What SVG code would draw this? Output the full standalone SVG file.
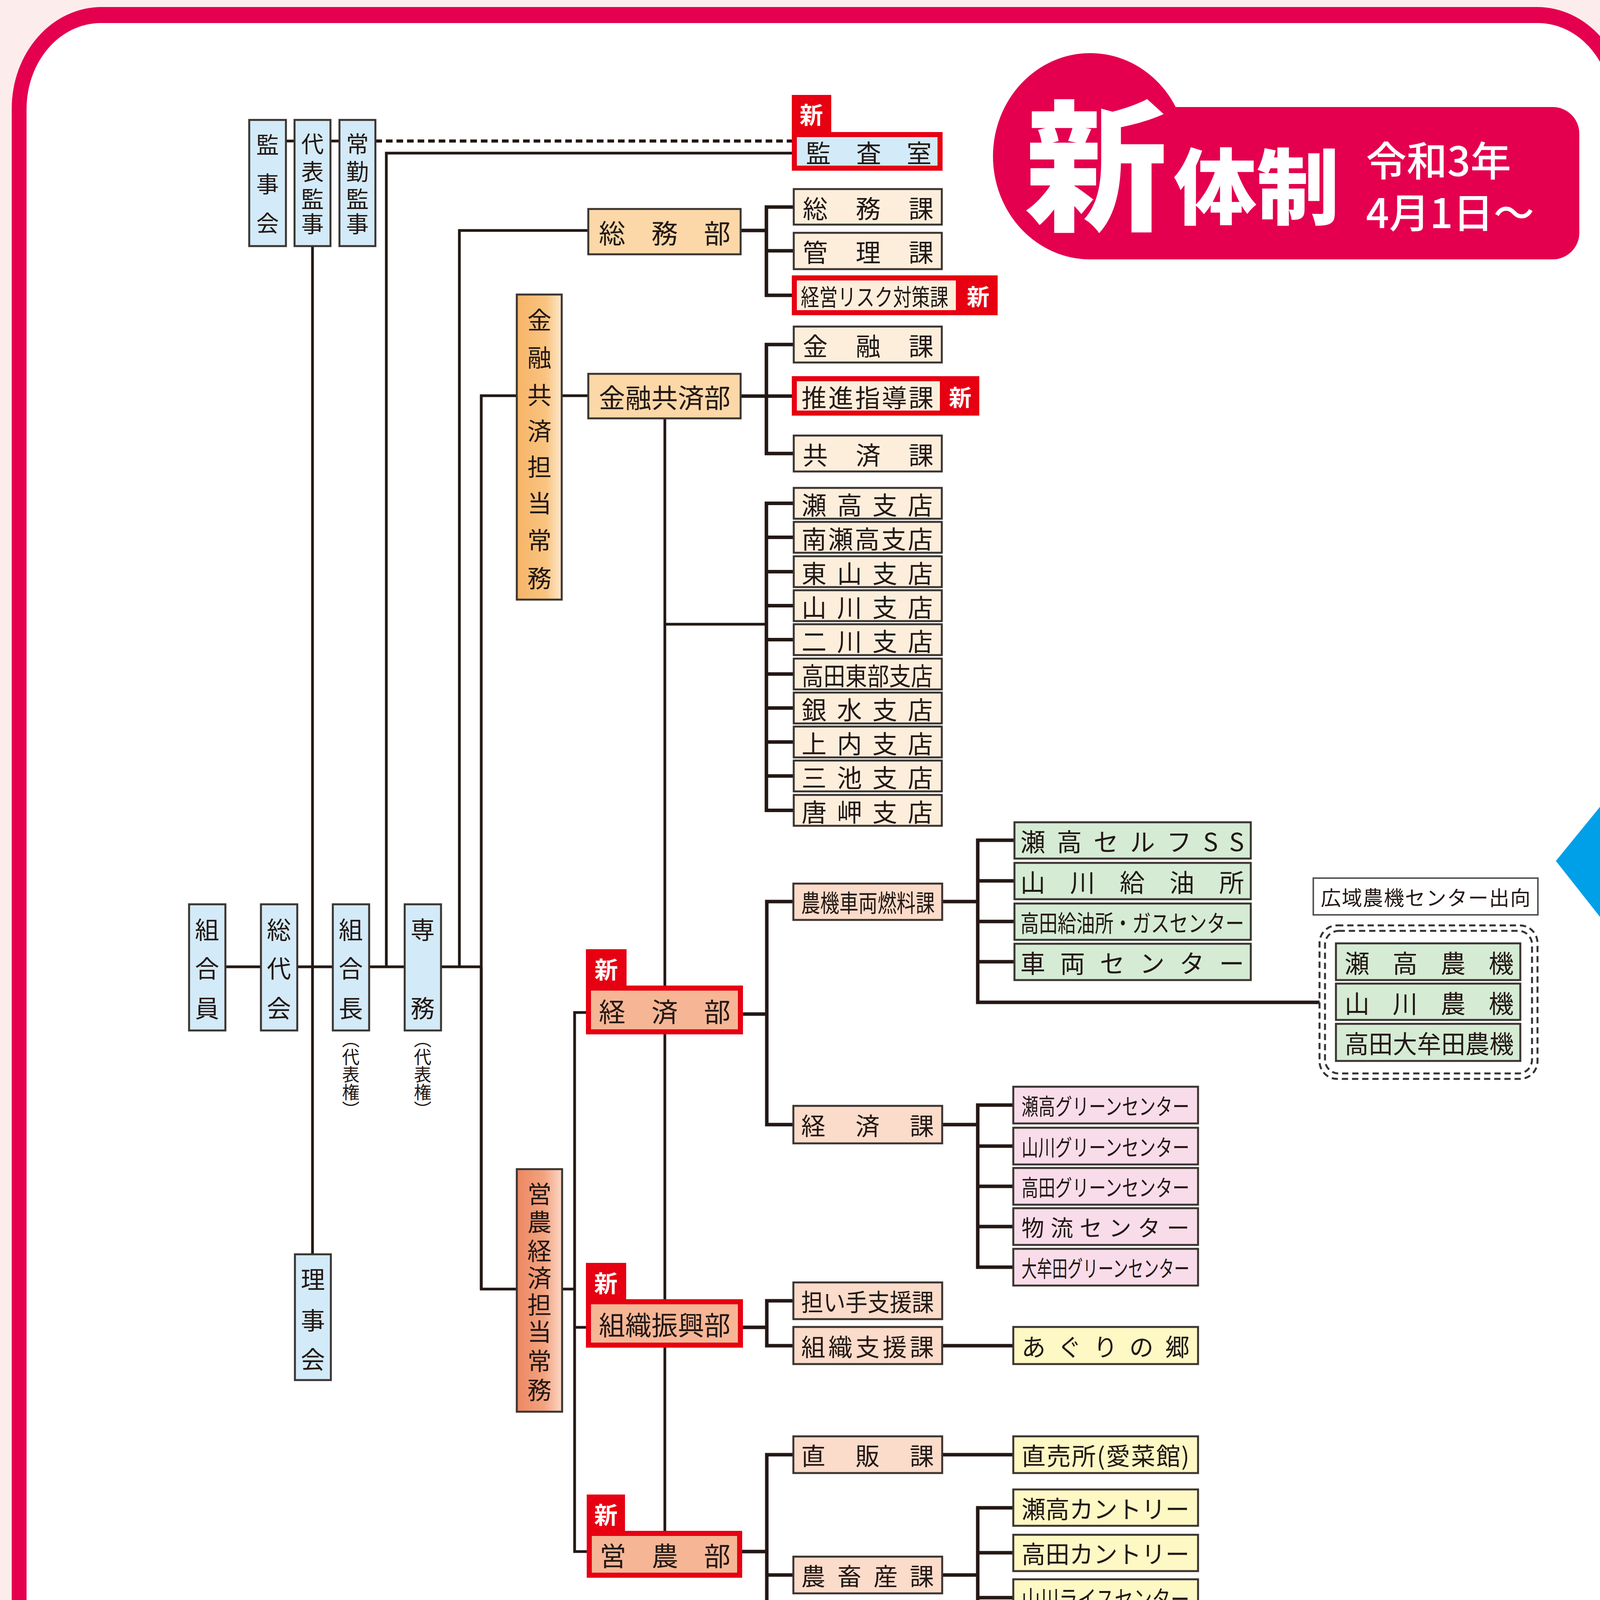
<svg xmlns="http://www.w3.org/2000/svg" width="4177" height="4990" viewBox="0 0 4177 4990">
<defs>
<style>
.t{font-family:"Noto Sans CJK JP","Noto Sans CJK SC",sans-serif;fill:#231815;dominant-baseline:central;}
.m{text-anchor:middle;}
.w{fill:#ffffff;font-weight:700;}
.bx{stroke:#3a3430;stroke-width:5;}
.blue{fill:#d3eaf8;}
.ora{fill:#fcd8a8;}
.cre{fill:#fdeedc;}
.sal{fill:#fbdbc9;}
.dep{fill:#f6b696;stroke:#e60012;stroke-width:13;}
.grn{fill:#d5ebd4;}
.pnk{fill:#f9dce9;}
.yel{fill:#fdf8c4;}
.lgr{fill:#d8e8a9;}
.tag{fill:#e60012;}
.ln{fill:none;stroke:#231815;stroke-width:7;}
.br{fill:none;stroke:#231815;stroke-width:9;}
.dot{fill:none;stroke:#231815;stroke-width:8;stroke-dasharray:17 10;}
.dash{fill:none;stroke:#333333;stroke-width:5;stroke-dasharray:16 10;}
.tw{fill:#ffffff;}
</style>
<linearGradient id="g1" x1="0" y1="0" x2="1" y2="0">
<stop offset="0" stop-color="#f6b468"/><stop offset="0.65" stop-color="#f9c480"/><stop offset="1" stop-color="#fde8cc"/>
</linearGradient>
<linearGradient id="g2" x1="0" y1="0" x2="1" y2="0">
<stop offset="0" stop-color="#ec8862"/><stop offset="0.6" stop-color="#f3a27f"/><stop offset="1" stop-color="#fbd8c6"/>
</linearGradient>
</defs>

<rect x="0" y="0" width="4177" height="4990" fill="#fcecec"/>
<path d="M260,18 H3935 A230,260 0 0 1 4165,278 V4728 A230,260 0 0 1 3935,4988 H260 A230,260 0 0 1 30,4728 V278 A230,260 0 0 1 260,18 Z" fill="#e4004f"/>
<path d="M258,59 H3937 A190,220 0 0 1 4127,279 V4727 A190,220 0 0 1 3937,4947 H258 A190,220 0 0 1 68,4727 V279 A190,220 0 0 1 258,59 Z" fill="#ffffff"/>
<polygon points="4177,1966 3983,2204 4177,2450" fill="#00a0e9"/>

<g id="title">
<ellipse cx="2791" cy="400" rx="249" ry="264" fill="#e4004f"/>
<path d="M2791,274 H3975 A68,68 0 0 1 4043,342 V596 A68,68 0 0 1 3975,664 H2791 Z" fill="#e4004f"/>
<text class="t m" x="2806" y="403" font-size="365" font-weight="900" style="fill:#ffffff">新</text>
<text class="t" x="3005" y="465" font-size="212" font-weight="900" style="fill:#ffffff">体制</text>
<text class="t" x="3497" y="405" font-size="104" font-weight="500" style="fill:#ffffff">令和3年</text>
<text class="t" x="3497" y="538" font-size="104" font-weight="500" style="fill:#ffffff">4月1日～</text>
</g>

<g id="connectors">
<path class="ln" d="M732,361H754 M846,361H869"/>
<path class="dot" d="M961,361H2027"/>
<path class="ln" d="M2027,392H989V2475"/>
<path class="ln" d="M800,630V3211"/>
<path class="ln" d="M577,2475H668 M761,2475H852 M945,2475H1036 M1129,2475H1232"/>
<path class="ln" d="M1176,2475V590H1506"/>
<path class="ln" d="M1232,3300V1013H1323 M1438,1013H1506"/>
<path class="ln" d="M1232,2475V3300H1323 M1439,3300H1471"/>
<path class="ln" d="M1500,2592H1471V3972H1502 M1471,3398H1500"/>
<path class="ln" d="M1702,1071V3919"/>
<path class="ln" d="M1702,1598H1962"/>
<path class="br" d="M1896,590H1962 M2032,530H1962V756H2032 M1962,642H2032"/>
<path class="br" d="M1896,1014H2032 M2032,882H1962V1161H2032"/>
<path class="br" d="M2032,1288.5H1962V2074.5H2032 M1962,1375.5H2032 M1962,1463.5H2032 M1962,1550.5H2032 M1962,1637.5H2032 M1962,1725.5H2032 M1962,1812.5H2032 M1962,1899.5H2032 M1962,1986.5H2032"/>
<path class="br" d="M1902,2596H1963 M2031,2308H1963V2879H2031"/>
<path class="br" d="M2411,2308H2503 M2597,2151H2503V2566H3378 M2503,2255H2597 M2503,2359H2597 M2503,2462H2597"/>
<path class="br" d="M2412,2879H2503 M2594,2829H2503V3244H2594 M2503,2934H2594 M2503,3037H2594 M2503,3140H2594"/>
<path class="br" d="M1902,3398H1963 M2031,3330H1963V3445H2031 M2412,3445H2594"/>
<path class="br" d="M1900,3972H1963 M2031,3724H1963V4538H2031 M1963,4032H2031 M2412,3724H2594"/>
<path class="br" d="M2412,4032H2503 M2594,3860H2503V4205H2594 M2503,3975H2594 M2503,4090H2594"/>
<path class="br" d="M2412,4538H2503 M2594,4367H2503V4712H2594 M2503,4482H2594 M2503,4597H2594"/>
</g>

<g id="kanjikai"><rect class="bx blue" x="638" y="307" width="94" height="323"/><text class="t m" x="685 685 685" y="367 468 568" font-size="58">監事会</text></g>
<g id="daihyo-kanji"><rect class="bx blue" x="754" y="307" width="92" height="323"/><text class="t m" x="800 800 800 800" y="365 436 506 570" font-size="58">代表監事</text></g>
<g id="jokin-kanji"><rect class="bx blue" x="869" y="307" width="92" height="323"/><text class="t m" x="915 915 915 915" y="365 436 506 570" font-size="58">常勤監事</text></g>

<g id="kumiaiin"><rect class="bx blue" x="484" y="2315" width="93" height="323"/><text class="t m" x="530 530 530" y="2377 2476 2578" font-size="62">組合員</text></g>
<g id="sodaikai"><rect class="bx blue" x="668" y="2315" width="93" height="323"/><text class="t m" x="714 714 714" y="2377 2476 2578" font-size="62">総代会</text></g>
<g id="kumiaicho"><rect class="bx blue" x="852" y="2315" width="93" height="323"/><text class="t m" x="898 898 898" y="2377 2476 2578" font-size="62">組合長</text>
<text x="898" y="2638" font-size="45" style="font-family:'Noto Sans CJK JP',sans-serif;fill:#231815;writing-mode:vertical-rl;">（代表権）</text></g>
<g id="senmu"><rect class="bx blue" x="1036" y="2315" width="93" height="323"/><text class="t m" x="1082 1082" y="2377 2578" font-size="62">専務</text>
<text x="1082" y="2638" font-size="45" style="font-family:'Noto Sans CJK JP',sans-serif;fill:#231815;writing-mode:vertical-rl;">（代表権）</text></g>
<g id="rijikai"><rect class="bx blue" x="755" y="3211" width="92" height="322"/><text class="t m" x="801 801 801" y="3272 3377 3477" font-size="62">理事会</text></g>

<g id="kansashitsu">
<rect class="tag" x="2027" y="243" width="101" height="101"/>
<rect x="2033.5" y="344.5" width="373" height="86" fill="#d3eaf8" stroke="#e60012" stroke-width="13"/>
<text class="t w m" x="2077" y="290" font-size="60">新</text>
<text class="t" x="2063" y="388" font-size="64" textLength="322" lengthAdjust="spacing">監査室</text>
</g>

<g id="somubu"><rect class="bx ora" x="1506" y="535" width="390" height="116"/><text class="t" x="1533" y="593" font-size="68" textLength="337" lengthAdjust="spacing">総務部</text></g>
<g id="kinyukyosaibu"><rect class="bx ora" x="1506" y="957" width="390" height="114"/><text class="t" x="1533" y="1014" font-size="68" textLength="337" lengthAdjust="spacingAndGlyphs">金融共済部</text></g>
<g id="kinyu-jomu"><rect class="bx" x="1323" y="754" width="115" height="781" fill="url(#g1)"/><text class="t m" x="1381 1381 1381 1381 1381 1381 1381 1381" y="816 912 1008 1100 1192 1285 1380 1477" font-size="62">金融共済担当常務</text></g>
<g id="einou-jomu"><rect class="bx" x="1323" y="2993" width="116" height="621" fill="url(#g2)"/><text class="t m" x="1381 1381 1381 1381 1381 1381 1381 1381" y="3053 3125 3199 3268 3337 3406 3481 3555" font-size="62">営農経済担当常務</text></g>

<g id="somuka"><rect class="bx cre" x="2032" y="484" width="379" height="91"/><text class="t" x="2055" y="530" font-size="64" textLength="335" lengthAdjust="spacing">総務課</text></g>
<g id="kanrika"><rect class="bx cre" x="2032" y="596" width="379" height="93"/><text class="t" x="2055" y="642" font-size="64" textLength="335" lengthAdjust="spacing">管理課</text></g>
<g id="risk"><rect class="tag" x="2027" y="705" width="527" height="102"/><rect class="cre" x="2040" y="718" width="407" height="76"/><text class="t" x="2050" y="756" font-size="60" textLength="378" lengthAdjust="spacingAndGlyphs">経営リスク対策課</text><text class="t w m" x="2504" y="756" font-size="58">新</text></g>
<g id="kinyuka"><rect class="bx cre" x="2032" y="836" width="379" height="92"/><text class="t" x="2055" y="882" font-size="64" textLength="335" lengthAdjust="spacing">金融課</text></g>
<g id="suishin"><rect class="tag" x="2027" y="963" width="480" height="101"/><rect class="cre" x="2040" y="976" width="366" height="75"/><text class="t" x="2052" y="1014" font-size="64" textLength="338" lengthAdjust="spacing">推進指導課</text><text class="t w m" x="2458" y="1014" font-size="58">新</text></g>
<g id="kyosaika"><rect class="bx cre" x="2032" y="1115" width="379" height="92"/><text class="t" x="2055" y="1161" font-size="64" textLength="335" lengthAdjust="spacing">共済課</text></g>

<g id="branch1"><rect class="bx cre" x="2032" y="1249" width="379" height="79"/><text class="t" x="2052" y="1288.5" font-size="64" textLength="336" lengthAdjust="spacing">瀬高支店</text></g>
<g id="branch2"><rect class="bx cre" x="2032" y="1336" width="379" height="79"/><text class="t" x="2052" y="1375.5" font-size="64" textLength="336" lengthAdjust="spacing">南瀬高支店</text></g>
<g id="branch3"><rect class="bx cre" x="2032" y="1424" width="379" height="79"/><text class="t" x="2052" y="1463.5" font-size="64" textLength="336" lengthAdjust="spacing">東山支店</text></g>
<g id="branch4"><rect class="bx cre" x="2032" y="1511" width="379" height="79"/><text class="t" x="2052" y="1550.5" font-size="64" textLength="336" lengthAdjust="spacing">山川支店</text></g>
<g id="branch5"><rect class="bx cre" x="2032" y="1598" width="379" height="79"/><text class="t" x="2052" y="1637.5" font-size="64" textLength="336" lengthAdjust="spacing">二川支店</text></g>
<g id="branch6"><rect class="bx cre" x="2032" y="1686" width="379" height="79"/><text class="t" x="2052" y="1725.5" font-size="64" textLength="336" lengthAdjust="spacingAndGlyphs">高田東部支店</text></g>
<g id="branch7"><rect class="bx cre" x="2032" y="1773" width="379" height="79"/><text class="t" x="2052" y="1812.5" font-size="64" textLength="336" lengthAdjust="spacing">銀水支店</text></g>
<g id="branch8"><rect class="bx cre" x="2032" y="1860" width="379" height="79"/><text class="t" x="2052" y="1899.5" font-size="64" textLength="336" lengthAdjust="spacing">上内支店</text></g>
<g id="branch9"><rect class="bx cre" x="2032" y="1947" width="379" height="79"/><text class="t" x="2052" y="1986.5" font-size="64" textLength="336" lengthAdjust="spacing">三池支店</text></g>
<g id="branch10"><rect class="bx cre" x="2032" y="2035" width="379" height="79"/><text class="t" x="2052" y="2074.5" font-size="64" textLength="336" lengthAdjust="spacing">唐岬支店</text></g>

<g id="keizaibu"><rect class="tag" x="1500" y="2430" width="104" height="100"/><rect class="dep" x="1506.5" y="2529.5" width="389" height="112"/><text class="t w m" x="1552" y="2478" font-size="60">新</text><text class="t" x="1533" y="2586" font-size="68" textLength="337" lengthAdjust="spacing">経済部</text></g>
<g id="soshikibu"><rect class="tag" x="1500" y="3233" width="103" height="100"/><rect class="dep" x="1506.5" y="3332.5" width="389" height="111"/><text class="t w m" x="1551" y="3281" font-size="60">新</text><text class="t" x="1533" y="3388" font-size="68" textLength="337" lengthAdjust="spacingAndGlyphs">組織振興部</text></g>
<g id="einoubu"><rect class="tag" x="1502" y="3826" width="98" height="100"/><rect class="dep" x="1508.5" y="3925.5" width="385" height="107"/><text class="t w m" x="1551" y="3874" font-size="60">新</text><text class="t" x="1535" y="3979" font-size="68" textLength="335" lengthAdjust="spacing">営農部</text></g>

<g id="nouki-ka"><rect class="bx sal" x="2031" y="2262" width="381" height="93"/><text class="t" x="2051" y="2308" font-size="62" textLength="342" lengthAdjust="spacingAndGlyphs">農機車両燃料課</text></g>
<g id="keizaika"><rect class="bx sal" x="2031" y="2831" width="381" height="96"/><text class="t" x="2051" y="2879" font-size="62" textLength="340" lengthAdjust="spacing">経済課</text></g>
<g id="ninaite"><rect class="bx sal" x="2031" y="3283" width="381" height="94"/><text class="t" x="2051" y="3330" font-size="62" textLength="340" lengthAdjust="spacingAndGlyphs">担い手支援課</text></g>
<g id="soshikishien"><rect class="bx sal" x="2031" y="3397" width="381" height="95"/><text class="t" x="2051" y="3445" font-size="62" textLength="340" lengthAdjust="spacing">組織支援課</text></g>
<g id="chokuhan"><rect class="bx sal" x="2031" y="3677" width="381" height="94"/><text class="t" x="2051" y="3724" font-size="62" textLength="340" lengthAdjust="spacing">直販課</text></g>
<g id="chikusan"><rect class="bx sal" x="2031" y="3985" width="381" height="94"/><text class="t" x="2051" y="4032" font-size="62" textLength="340" lengthAdjust="spacing">農畜産課</text></g>
<g id="engei"><rect class="bx sal" x="2031" y="4491" width="381" height="95"/><text class="t" x="2051" y="4538" font-size="62" textLength="340" lengthAdjust="spacing">園芸課</text></g>

<g id="fuel1"><rect class="bx grn" x="2597" y="2105" width="605" height="93"/><text class="t" x="2612" y="2151" font-size="64" textLength="573" lengthAdjust="spacing">瀬高セルフSS</text></g>
<g id="fuel2"><rect class="bx grn" x="2597" y="2209" width="605" height="93"/><text class="t" x="2612" y="2255" font-size="64" textLength="573" lengthAdjust="spacing">山川給油所</text></g>
<g id="fuel3"><rect class="bx grn" x="2597" y="2313" width="605" height="93"/><text class="t" x="2612" y="2359" font-size="60" textLength="573" lengthAdjust="spacingAndGlyphs">高田給油所・ガスセンター</text></g>
<g id="fuel4"><rect class="bx grn" x="2597" y="2416" width="605" height="93"/><text class="t" x="2612" y="2462" font-size="64" textLength="573" lengthAdjust="spacing">車両センター</text></g>

<g id="kouiki-label"><rect x="3362" y="2248" width="575" height="94" fill="#ffffff" stroke="#555555" stroke-width="4"/><text class="t" x="3381" y="2295" font-size="52" textLength="537" lengthAdjust="spacing">広域農機センター出向</text></g>
<g id="kouiki-group">
<rect class="dash" x="3378" y="2369" width="558" height="393" rx="45"/>
<rect class="dash" x="3392" y="2383" width="530" height="365" rx="35"/>
<rect class="bx grn" x="3420" y="2415" width="472" height="94"/><text class="t" x="3442" y="2462" font-size="64" textLength="433" lengthAdjust="spacing">瀬高農機</text>
<rect class="bx grn" x="3420" y="2518" width="472" height="93"/><text class="t" x="3442" y="2565" font-size="64" textLength="433" lengthAdjust="spacing">山川農機</text>
<rect class="bx grn" x="3420" y="2621" width="472" height="95"/><text class="t" x="3442" y="2668" font-size="64" textLength="433" lengthAdjust="spacingAndGlyphs">高田大牟田農機</text>
</g>

<g id="green1"><rect class="bx pnk" x="2594" y="2782" width="473" height="94"/><text class="t" x="2615" y="2829" font-size="58" textLength="430" lengthAdjust="spacingAndGlyphs">瀬高グリーンセンター</text></g>
<g id="green2"><rect class="bx pnk" x="2594" y="2887" width="473" height="94"/><text class="t" x="2615" y="2934" font-size="58" textLength="430" lengthAdjust="spacingAndGlyphs">山川グリーンセンター</text></g>
<g id="green3"><rect class="bx pnk" x="2594" y="2990" width="473" height="94"/><text class="t" x="2615" y="3037" font-size="58" textLength="430" lengthAdjust="spacingAndGlyphs">高田グリーンセンター</text></g>
<g id="butsuryu"><rect class="bx pnk" x="2594" y="3093" width="473" height="94"/><text class="t" x="2615" y="3140" font-size="58" textLength="430" lengthAdjust="spacing">物流センター</text></g>
<g id="green5"><rect class="bx pnk" x="2594" y="3197" width="473" height="94"/><text class="t" x="2615" y="3244" font-size="58" textLength="430" lengthAdjust="spacingAndGlyphs">大牟田グリーンセンター</text></g>

<g id="agurinosato"><rect class="bx yel" x="2594" y="3397" width="473" height="95"/><text class="t" x="2615" y="3445" font-size="62" textLength="430" lengthAdjust="spacing">あぐりの郷</text></g>
<g id="chokubaisho"><rect class="bx yel" x="2594" y="3677" width="473" height="94"/><text class="t" x="2615" y="3724" font-size="62" textLength="430" lengthAdjust="spacing">直売所(愛菜館)</text></g>
<g id="country1"><rect class="bx yel" x="2594" y="3813" width="473" height="93"/><text class="t" x="2615" y="3860" font-size="62" textLength="430" lengthAdjust="spacingAndGlyphs">瀬高カントリー</text></g>
<g id="country2"><rect class="bx yel" x="2594" y="3929" width="473" height="93"/><text class="t" x="2615" y="3975" font-size="62" textLength="430" lengthAdjust="spacingAndGlyphs">高田カントリー</text></g>
<g id="rice"><rect class="bx yel" x="2594" y="4043" width="473" height="94"/><text class="t" x="2615" y="4090" font-size="62" textLength="430" lengthAdjust="spacingAndGlyphs">山川ライスセンター</text></g>
<g id="daizu"><rect class="bx yel" x="2594" y="4159" width="473" height="93"/><text class="t" x="2615" y="4205" font-size="62" textLength="430" lengthAdjust="spacingAndGlyphs">大豆乾燥調整センター</text></g>

<g id="senka1"><rect class="bx lgr" x="2594" y="4321" width="473" height="93"/><text class="t" x="2615" y="4367" font-size="62" textLength="430" lengthAdjust="spacingAndGlyphs">瀬高東山選果場</text></g>
<g id="senka2"><rect class="bx lgr" x="2594" y="4435" width="473" height="93"/><text class="t" x="2615" y="4482" font-size="62" textLength="430" lengthAdjust="spacing">山川選果場</text></g>
<g id="senka3"><rect class="bx lgr" x="2594" y="4550" width="473" height="94"/><text class="t" x="2615" y="4597" font-size="62" textLength="430" lengthAdjust="spacing">高田選果場</text></g>
<g id="shuka"><rect class="bx lgr" x="2594" y="4665" width="473" height="93"/><text class="t" x="2615" y="4712" font-size="62" textLength="430" lengthAdjust="spacing">大牟田集荷場</text></g>
</svg>
